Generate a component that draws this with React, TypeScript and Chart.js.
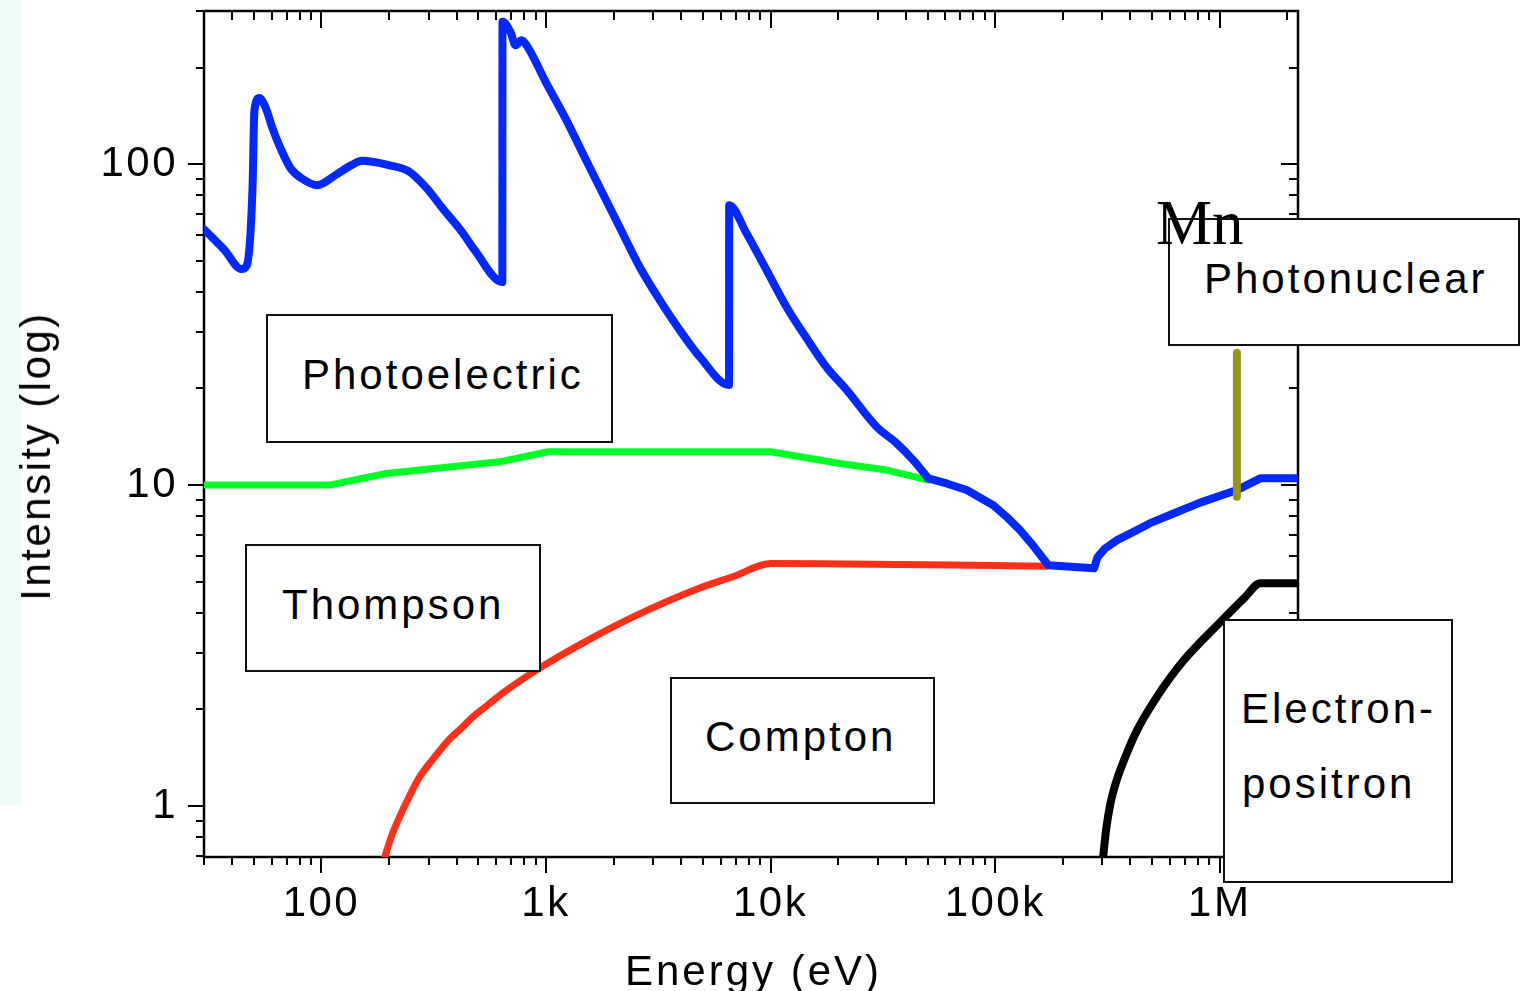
import React, { useEffect, useRef } from "react";
import { Chart, registerables } from "chart.js";

Chart.register(...registerables);

// ---------- data ----------
// Photoelectric (blue, up to where it meets the Thompson line)
const photoEnergy = [30, 37, 44, 46.6, 49.3, 50.3, 52.9, 56.3, 60.5, 66.3, 72.8, 81.5, 96, 115.4, 136, 151.5, 199, 244, 294, 346, 423, 481, 639, 640, 695, 732, 778, 819, 1003, 1232, 1456, 1787, 2128, 2613, 3208, 3939, 4836, 6530, 6539, 7808, 9588, 11773, 14454, 17744, 21790, 29640, 36400, 43160, 50350];
const photoValue = [62.6, 54.0, 47.1, 48.5, 83, 147, 160.6, 150.5, 129.5, 110.6, 97.2, 90.4, 86.0, 92.4, 99.3, 102.4, 99.3, 95.1, 84.2, 72.9, 61.4, 54.0, 42.9, 277.5, 257.7, 234.8, 243.4, 234.8, 178.8, 137.1, 108.2, 81.2, 63.6, 47.8, 37.7, 30.4, 25.1, 20.5, 74.5, 60.9, 46.8, 35.9, 28.7, 23.3, 19.8, 15.2, 13.5, 11.96, 10.5];

// Total (blue, from the Thompson junction to the right edge)
const totalEnergy = [50350, 60800, 74640, 98070, 112500, 128970, 142900, 153100, 172400, 275600, 285700, 308500, 348900, 412600, 489600, 621800, 817900, 1192000, 1514000, 2230000];
const totalValue = [10.5, 10.12, 9.65, 8.66, 7.96, 7.24, 6.66, 6.27, 5.63, 5.51, 5.97, 6.35, 6.74, 7.15, 7.61, 8.16, 8.82, 9.65, 10.5, 10.5];

// Thompson (green)
const thompsonEnergy = [30, 108.6, 194.2, 621, 1020, 10000, 20340, 32850, 50350];
const thompsonValue = [10, 10, 10.87, 11.82, 12.7, 12.7, 11.68, 11.14, 10.36];

// Compton (red)
const comptonEnergy = [191, 205.1, 222.6, 246.7, 273.3, 318.9, 371.9, 420.7, 470.9, 549.4, 640.7, 936.5, 1456, 2432, 4836, 6785, 10000, 169600];
const comptonValue = [0.69, 0.806, 0.924, 1.075, 1.231, 1.421, 1.617, 1.75, 1.894, 2.063, 2.249, 2.691, 3.22, 3.88, 4.78, 5.18, 5.7, 5.59];

// Electron-positron pair production (black)
const pairEnergy = [302200, 311700, 324800, 345300, 375000, 424200, 520600, 686800, 1004000, 1298000, 1514000, 2230000];
const pairValue = [0.69, 0.842, 1.007, 1.188, 1.391, 1.7, 2.17, 2.83, 3.74, 4.48, 4.95, 4.95];

// Photonuclear (olive bar)
const nuclearEnergy = [1192000, 1192000];
const nuclearValue = [25.8, 9.2];

// axes
const xMin = 30;
const xMax = 2230000;
const yMin = 0.694;
const yMax = 300;
const xTickValues = [100, 1000, 10000, 100000, 1000000];
const xTickLabels = ["100", "1k", "10k", "100k", "1M"];
const yTickValues = [1, 10, 100];
const yTickLabels = ["1", "10", "100"];

const FONT = "'Liberation Sans', Arial, Helvetica, sans-serif";

function pts(xs: number[], ys: number[]) {
  return xs.map((x, i) => ({ x, y: ys[i] }));
}

function isPow10(v: number) {
  const l = Math.log10(v);
  return Math.abs(l - Math.round(l)) < 1e-9;
}

function logTicks(min: number, max: number) {
  const out: { value: number; major: boolean }[] = [];
  for (let e = Math.floor(Math.log10(min)); e <= Math.ceil(Math.log10(max)); e++) {
    for (let d = 1; d <= 9; d++) {
      const v = d * Math.pow(10, e);
      if (v >= min * 0.9999 && v <= max * 1.0001) out.push({ value: v, major: d === 1 });
    }
  }
  return out;
}

function labelFor(values: number[], labels: string[], v: number) {
  for (let i = 0; i < values.length; i++) {
    if (Math.abs(values[i] - v) / values[i] < 1e-6) return labels[i];
  }
  return null;
}

const frameTicks = {
  id: "frameTicks",
  beforeDraw(chart: any) {
    chart.ctx.letterSpacing = "2.5px";
  },
  beforeDatasetsDraw(chart: any) {
    const { ctx, chartArea: a, scales } = chart;
    const xs = scales.x;
    const ys = scales.y;
    ctx.save();
    ctx.strokeStyle = "#000";
    ctx.lineWidth = 2;
    ctx.lineCap = "butt";
    ctx.beginPath();
    for (const v of logTicks(xMin, xMax)) {
      const px = Math.round(xs.getPixelForValue(v.value));
      const major = isPow10(v.value);
      ctx.moveTo(px, a.bottom);
      ctx.lineTo(px, a.bottom + (major ? 16 : 8));
      ctx.moveTo(px, a.top);
      ctx.lineTo(px, a.top + (major ? 17 : 9));
    }
    for (const v of logTicks(yMin, yMax)) {
      const py = Math.round(ys.getPixelForValue(v.value));
      const major = isPow10(v.value);
      ctx.moveTo(a.left, py);
      ctx.lineTo(a.left - (major ? 16 : 8), py);
      ctx.moveTo(a.right, py);
      ctx.lineTo(a.right - (major ? 17 : 9), py);
    }
    ctx.stroke();
    ctx.lineWidth = 2.5;
    ctx.strokeRect(a.left, a.top, a.right - a.left, a.bottom - a.top);
    ctx.restore();
  },
};

const boxes = [
  { left: 266, top: 314, width: 347, height: 129 },
  { left: 245, top: 544, width: 296, height: 128 },
  { left: 670, top: 677, width: 265, height: 127 },
  { left: 1168, top: 218, width: 352, height: 128 },
  { left: 1223, top: 619, width: 230, height: 264 },
];

const boxTexts = [
  { text: "Photoelectric", left: 302, top: 354 },
  { text: "Thompson", left: 282, top: 584 },
  { text: "Compton", left: 705, top: 716 },
  { text: "Photonuclear", left: 1204, top: 258 },
  { text: "Electron-", left: 1241, top: 688 },
  { text: "positron", left: 1242, top: 763 },
];

export default function App() {
  const canvasRef = useRef<HTMLCanvasElement | null>(null);

  useEffect(() => {
    const canvas = canvasRef.current;
    if (!canvas) return;
    const lineBase = {
      pointRadius: 0,
      borderJoinStyle: "round" as const,
      borderCapStyle: "round" as const,
      fill: false,
    };
    const chart = new Chart(canvas, {
      type: "line",
      data: {
        datasets: [
          { ...lineBase, label: "Photonuclear", data: pts(nuclearEnergy, nuclearValue), borderColor: "#95951c", borderWidth: 8, tension: 0 },
          { ...lineBase, label: "Photoelectric", data: pts(photoEnergy, photoValue), borderColor: "#0028ff", borderWidth: 8, cubicInterpolationMode: "monotone" },
          { ...lineBase, label: "Total", data: pts(totalEnergy, totalValue), borderColor: "#0028ff", borderWidth: 8, tension: 0 },
          { ...lineBase, label: "Electron-positron", data: pts(pairEnergy, pairValue), borderColor: "#000000", borderWidth: 8, cubicInterpolationMode: "monotone" },
          { ...lineBase, label: "Compton", data: pts(comptonEnergy, comptonValue), borderColor: "#ff3019", borderWidth: 7, cubicInterpolationMode: "monotone" },
          { ...lineBase, label: "Thompson", data: pts(thompsonEnergy, thompsonValue), borderColor: "#00ff26", borderWidth: 7, tension: 0 },
        ],
      },
      options: {
        animation: false,
        responsive: false,
        maintainAspectRatio: false,
        parsing: false as any,
        normalized: true,
        layout: { padding: { top: 11, right: 225, bottom: 0, left: 0 } },
        plugins: { legend: { display: false }, tooltip: { enabled: false }, title: { display: false } },
        scales: {
          x: {
            type: "logarithmic",
            position: "bottom",
            min: xMin,
            max: xMax,
            grid: { display: false, drawTicks: false },
            border: { display: false },
            afterBuildTicks: (scale: any) => {
              scale.ticks = xTickValues.map((v) => ({ value: v, major: true }));
            },
            afterFit: (scale: any) => {
              scale.height = 134;
              scale.paddingLeft = 0;
              scale.paddingRight = 0;
            },
            ticks: {
              autoSkip: false,
              maxRotation: 0,
              minRotation: 0,
              padding: 26,
              color: "#000",
              font: { family: FONT, size: 42, lineHeight: 1 },
              callback: (v: any) => labelFor(xTickValues, xTickLabels, Number(v)),
            },
          },
          y: {
            type: "logarithmic",
            position: "left",
            min: yMin,
            max: yMax,
            grid: { display: false, drawTicks: false },
            border: { display: false },
            afterBuildTicks: (scale: any) => {
              scale.ticks = yTickValues.map((v) => ({ value: v, major: true }));
            },
            afterFit: (scale: any) => {
              scale.width = 204;
              scale.paddingTop = 0;
              scale.paddingBottom = 0;
            },
            ticks: {
              autoSkip: false,
              padding: 26,
              color: "#000",
              font: { family: FONT, size: 42, lineHeight: 1 },
              callback: (v: any) => labelFor(yTickValues, yTickLabels, Number(v)),
            },
          },
        },
      } as any,
      plugins: [frameTicks],
    });
    return () => chart.destroy();
  }, []);

  const textStyle: React.CSSProperties = {
    position: "absolute",
    fontFamily: FONT,
    fontSize: 42,
    lineHeight: "42px",
    letterSpacing: "3px",
    whiteSpace: "nowrap",
    color: "#000",
  };

  return (
    <div style={{ position: "absolute", left: 0, top: 0, width: 1523, height: 991, overflow: "hidden", background: "#fff" }}>
      <div style={{ position: "absolute", left: 0, top: 0, width: 22, height: 805, background: "#eefcf5" }} />
      <canvas ref={canvasRef} width={1523} height={991} style={{ position: "absolute", left: 0, top: 0, width: 1523, height: 991 }} />
      {boxes.map((b, i) => (
        <div
          key={"b" + i}
          style={{
            position: "absolute",
            left: b.left,
            top: b.top,
            width: b.width,
            height: b.height,
            boxSizing: "border-box",
            border: "2px solid #111",
            background: "#fff",
          }}
        />
      ))}
      {boxTexts.map((t, i) => (
        <div key={"t" + i} style={{ ...textStyle, left: t.left, top: t.top }}>
          {t.text}
        </div>
      ))}
      <div
        style={{
          position: "absolute",
          left: 1156,
          top: 192,
          fontFamily: "'Liberation Serif', 'Times New Roman', serif",
          fontSize: 63,
          lineHeight: "63px",
          whiteSpace: "nowrap",
          color: "#000",
        }}
      >
        Mn
      </div>
      <div style={{ ...textStyle, left: 625, top: 950 }}>Energy (eV)</div>
      <div
        style={{
          ...textStyle,
          letterSpacing: "2.5px",
          left: 35.5,
          top: 456,
          transform: "translate(-50%, -50%) rotate(-90deg)",
        }}
      >
        Intensity (log)
      </div>
    </div>
  );
}
